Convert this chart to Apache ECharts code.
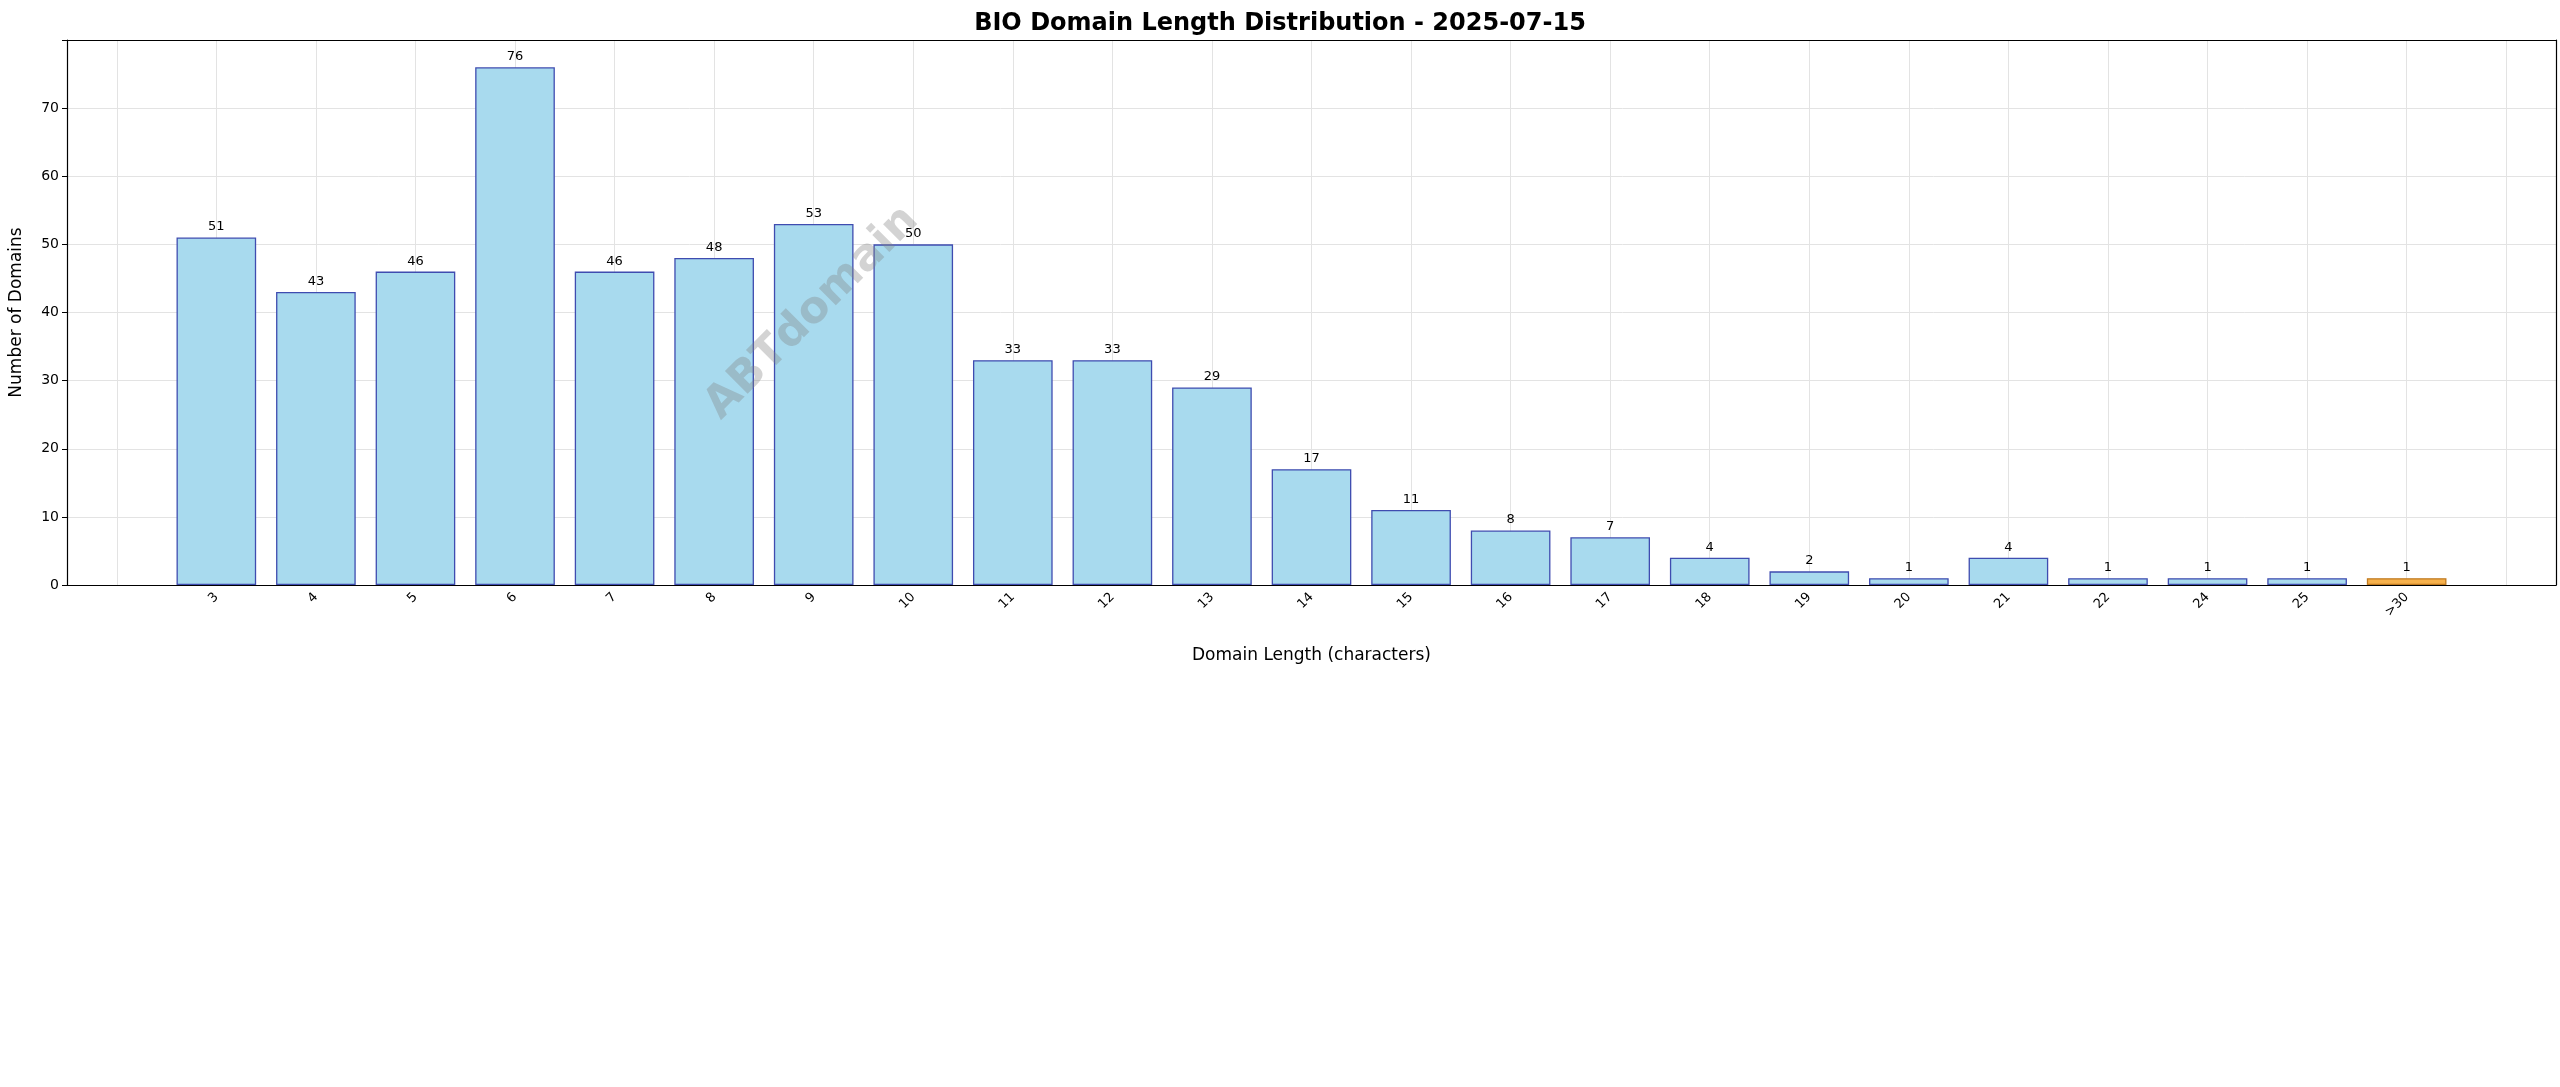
<!DOCTYPE html>
<html>
<head>
<meta charset="utf-8">
<script src="https://cdn.jsdelivr.net/npm/echarts@6/dist/echarts.min.js"></script>
<style>html,body{margin:0;padding:0;background:#fff}#chart{width:2560px;height:1087px}</style>
</head>
<body>
<div id="chart"></div>
<script>
var lengths = ['3','4','5','6','7','8','9','10','11','12','13','14','15','16','17','18','19','20','21','22','24','25','>30'];
var counts = [51,43,46,76,46,48,53,50,33,33,29,17,11,8,7,4,2,1,4,1,1,1,1];
var yTicks = [0,10,20,30,40,50,60,70];

// pad one empty band on each side, like matplotlib margins
var cats = [''].concat(lengths).concat(['']);
var barData = [{value: '-'}];
for (var i = 0; i < counts.length; i++) {
    var isLast = lengths[i] === '>30';
    barData.push({
        value: counts[i],
        itemStyle: {color: isLast ? '#f6b14c' : '#a8daee', borderColor: isLast ? '#c07a20' : '#3f4cb0', borderWidth: 1.3}
    });
}
barData.push({value: '-'});
// half-bands, used only to put vertical grid lines at bar centres
var halfCats = [];
for (var k = 0; k < cats.length * 2; k++) halfCats.push('h' + k);

var chart = echarts.init(document.getElementById('chart'));
chart.setOption({
    animation: false,
    title: {
        text: 'BIO Domain Length Distribution - 2025-07-15',
        left: 'center', top: 7,
        textStyle: {fontFamily: 'DejaVu Sans', fontSize: 24, fontWeight: 'bold', color: '#000'}
    },
    grid: {left: 67, right: 4, top: 40, bottom: 502, containLabel: false},
    graphic: [{
        type: 'text', x: 812, y: 313, rotation: Math.PI / 4,
        style: {text: 'ABTdomain', align: 'center', verticalAlign: 'middle',
            font: 'bold 44px "DejaVu Sans"', fill: 'rgba(128,128,128,0.35)'},
        z: 100
    }],
    xAxis: [{
        type: 'category', data: cats,
        name: 'Domain Length (characters)', nameLocation: 'middle', nameGap: 62,
        nameTextStyle: {fontFamily: 'DejaVu Sans', fontSize: 17, color: '#000'},
        axisLine: {lineStyle: {color: '#000', width: 1.2}},
        axisTick: {show: false},
        axisLabel: {rotate: 45, fontFamily: 'DejaVu Sans', fontSize: 13, color: '#000', margin: 10, interval: 0},
        splitLine: {show: false}
    }, {
        type: 'category', data: halfCats, boundaryGap: true, position: 'top',
        axisLine: {show: true, onZero: false, lineStyle: {color: '#000', width: 1.2}},
        axisTick: {show: false}, axisLabel: {show: false},
        splitLine: {show: true, interval: function (idx) { return idx % 2 === 1; },
            lineStyle: {color: '#e3e3e3', width: 1}}
    }],
    yAxis: [{
        type: 'value', min: 0, max: 80, interval: 10,
        name: 'Number of Domains', nameLocation: 'middle', nameGap: 42,
        nameTextStyle: {fontFamily: 'DejaVu Sans', fontSize: 17, color: '#000'},
        axisLine: {show: true, lineStyle: {color: '#000', width: 1.2}},
        axisTick: {show: true, length: 5, lineStyle: {color: '#000'}},
        axisLabel: {fontFamily: 'DejaVu Sans', fontSize: 14, color: '#000',
            formatter: function (v) { return yTicks.indexOf(v) >= 0 ? v : ''; }},
        splitLine: {show: true, lineStyle: {color: '#e3e3e3', width: 1}}
    }, {
        type: 'value', min: 0, max: 80, position: 'right',
        axisLine: {show: true, lineStyle: {color: '#000', width: 1.2}},
        axisTick: {show: false}, axisLabel: {show: false}, splitLine: {show: false}
    }],
    series: [{
        type: 'bar', data: barData, barWidth: '80%',
        label: {show: true, position: 'top', distance: 4, fontFamily: 'DejaVu Sans', fontSize: 13, color: '#000'}
    }]
});
</script>
</body>
</html>
